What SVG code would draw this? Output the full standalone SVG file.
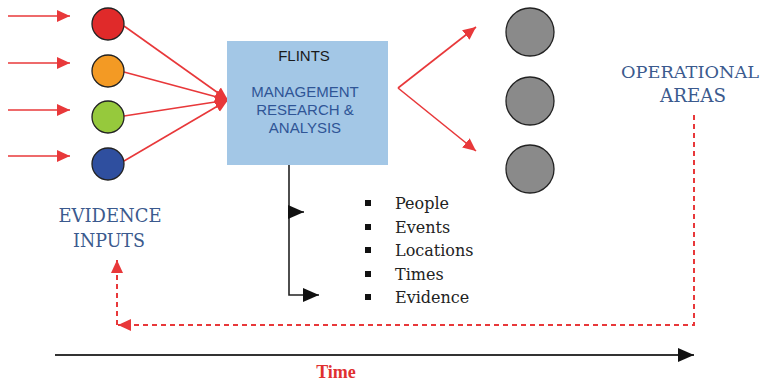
<svg xmlns="http://www.w3.org/2000/svg" width="767" height="383" viewBox="0 0 767 383">
<style>
.red{stroke:#e8383a;stroke-width:1.6;fill:none}
.dash{stroke:#e8383a;stroke-width:2;fill:none;stroke-dasharray:5,4}
.blk{stroke:#222;stroke-width:1.6;fill:none}
.node{stroke:#222;stroke-width:1.3}
.gray{fill:#8a8a8a;stroke:#222;stroke-width:1.3}
.lab{font-family:"DejaVu Serif","Liberation Serif",serif;font-size:19px;fill:#3b5a8e;text-anchor:middle}
.box{font-family:"Liberation Sans",Arial,sans-serif;font-size:15px;text-anchor:middle}
.item{font-family:"DejaVu Serif","Liberation Serif",serif;font-size:16px;fill:#222}
</style>
<defs>
<marker id="ar" markerUnits="userSpaceOnUse" markerWidth="14" markerHeight="14" refX="13" refY="7" orient="auto"><path d="M0,1 L13,7 L0,13 Z" fill="#e8383a"/></marker>
<marker id="ab" markerUnits="userSpaceOnUse" markerWidth="17" markerHeight="16" refX="16" refY="8" orient="auto"><path d="M0,1 L16,8 L0,15 Z" fill="#111"/></marker>
</defs>
<g id="connectors">
<line class="red" x1="8" y1="16" x2="70" y2="16" marker-end="url(#ar)"/>
<line class="red" x1="8" y1="63" x2="70" y2="63" marker-end="url(#ar)"/>
<line class="red" x1="8" y1="110" x2="70" y2="110" marker-end="url(#ar)"/>
<line class="red" x1="8" y1="156" x2="70" y2="156" marker-end="url(#ar)"/>
<line class="red" x1="124" y1="26" x2="228" y2="100" marker-end="url(#ar)"/>
<line class="red" x1="124" y1="72" x2="228" y2="100" marker-end="url(#ar)"/>
<line class="red" x1="124" y1="116" x2="228" y2="100" marker-end="url(#ar)"/>
<line class="red" x1="124" y1="161" x2="228" y2="100" marker-end="url(#ar)"/>
<line class="red" x1="398" y1="88" x2="476" y2="27" marker-end="url(#ar)"/>
<line class="red" x1="398" y1="88" x2="476" y2="151" marker-end="url(#ar)"/>
<path class="blk" d="M289,165 V295 H319" marker-end="url(#ab)"/>
<line class="blk" x1="289" y1="212" x2="304" y2="212" marker-end="url(#ab)"/>
<path class="dash" d="M694,115 V325 H118" marker-end="url(#ar)"/>
<line class="dash" x1="117" y1="325" x2="117" y2="260" marker-end="url(#ar)"/>
<line x1="55" y1="355" x2="694" y2="355" stroke="#333" stroke-width="2" marker-end="url(#ab)"/>
</g>
<g id="input-red"><circle class="node" cx="108" cy="24" r="16" fill="#e02a2a"/></g>
<g id="input-orange"><circle class="node" cx="108" cy="71" r="16" fill="#f39a24"/></g>
<g id="input-green"><circle class="node" cx="108" cy="117" r="16" fill="#96c93c"/></g>
<g id="input-blue"><circle class="node" cx="108" cy="164" r="16" fill="#2f4f9f"/></g>
<g id="flints">
<rect x="227" y="41" width="161" height="124" fill="#a3c7e6"/>
<text class="box" x="304" y="61" fill="#1a1a1a">FLINTS</text>
<text class="box" x="305" y="97" fill="#2f5596">MANAGEMENT</text>
<text class="box" x="305" y="115" fill="#2f5596">RESEARCH &amp;</text>
<text class="box" x="305" y="133" fill="#2f5596">ANALYSIS</text>
</g>
<g id="op1"><circle class="gray" cx="530" cy="32" r="24"/></g>
<g id="op2"><circle class="gray" cx="530" cy="101" r="24"/></g>
<g id="op3"><circle class="gray" cx="530" cy="169" r="24"/></g>
<g id="operational-areas">
<text class="lab" x="690" y="78" font-size="17" textLength="138" lengthAdjust="spacingAndGlyphs" style="font-size:17.5px">OPERATIONAL</text>
<text class="lab" x="693" y="102" textLength="66" lengthAdjust="spacingAndGlyphs">AREAS</text>
</g>
<g id="evidence-inputs">
<text class="lab" x="110" y="222" textLength="103" lengthAdjust="spacingAndGlyphs">EVIDENCE</text>
<text class="lab" x="109" y="247" textLength="72" lengthAdjust="spacingAndGlyphs">INPUTS</text>
</g>
<g id="items">
<rect x="365" y="200" width="6" height="6" fill="#111"/>
<rect x="365" y="224" width="6" height="6" fill="#111"/>
<rect x="365" y="247" width="6" height="6" fill="#111"/>
<rect x="365" y="271" width="6" height="6" fill="#111"/>
<rect x="365" y="294" width="6" height="6" fill="#111"/>
<text class="item" x="395" y="209">People</text>
<text class="item" x="395" y="233">Events</text>
<text class="item" x="395" y="256">Locations</text>
<text class="item" x="395" y="280">Times</text>
<text class="item" x="395" y="303">Evidence</text>
</g>
<g id="time">
<text x="336" y="378" font-family="'Liberation Serif',serif" font-weight="bold" font-size="18" fill="#e03030" text-anchor="middle">Time</text>
</g>
</svg>
